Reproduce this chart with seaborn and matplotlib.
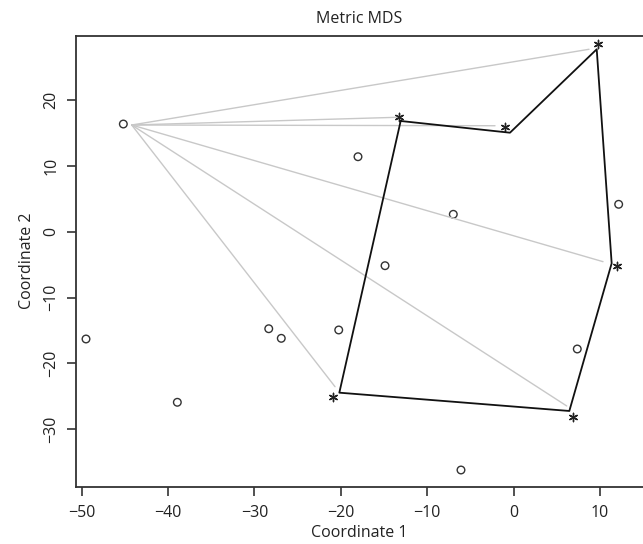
import numpy as np
import pandas as pd
import matplotlib
matplotlib.use("Agg")
import matplotlib.pyplot as plt
import seaborn as sns

# Circle points ("o")
circle_x = [-45.17, -18.01, -6.98, 12.16, -14.88, -49.49, -28.34, -26.89, -20.24, 7.37, -38.92, -6.09]
circle_y = [16.38, 11.41, 2.66, 4.18, -5.15, -16.29, -14.73, -16.19, -14.92, -17.81, -25.91, -36.20]

# Star points ("*")
star_x = [9.80, -13.26, -1.03, 11.93, 6.91, -20.87]
star_y = [28.54, 17.40, 15.88, -5.15, -28.10, -25.06]

# Black polygon vertices (closed)
poly_x = [-13.07, -0.42, 9.62, 11.35, 6.45, -20.17, -13.07]
poly_y = [16.84, 15.06, 27.74, -4.79, -27.23, -24.45, 16.84]

# Gray spokes: hub and end points
hub_x, hub_y = -44.2, 16.23
spoke_end_x = [8.73, -13.53, -2.15, 10.35, 6.15, -20.67]
spoke_end_y = [27.74, 17.40, 16.12, -4.54, -26.47, -23.54]

x_ticks = [-50, -40, -30, -20, -10, 0, 10]
y_ticks = [-30, -20, -10, 0, 10, 20]

sns.set_theme(style="white")
plt.rcParams['font.family'] = ['Open Sans', 'DejaVu Sans']

fig = plt.figure(figsize=(6.43, 5.44), dpi=100)
W, H = 643, 544
left_px, right_px, top_px, bottom_px = 75.5, 643, 35.7, 486.7
ax = fig.add_axes([left_px / W, 1 - bottom_px / H,
                   (right_px - left_px) / W, (bottom_px - top_px) / H])

# spokes
spokes = pd.DataFrame({
    "x": [v for ex in spoke_end_x for v in (hub_x, ex)],
    "y": [v for ey in spoke_end_y for v in (hub_y, ey)],
    "seg": [i for i in range(len(spoke_end_x)) for _ in (0, 1)],
})
sns.lineplot(data=spokes, x="x", y="y", units="seg", estimator=None, sort=False,
             color="#c8c8c8", linewidth=1.0, ax=ax, legend=False)

# polygon
poly = pd.DataFrame({"x": poly_x, "y": poly_y})
sns.lineplot(data=poly, x="x", y="y", sort=False, estimator=None,
             color="#111111", linewidth=1.3, ax=ax, legend=False)

# circles
circ = pd.DataFrame({"x": circle_x, "y": circle_y})
sns.scatterplot(data=circ, x="x", y="y", marker="o", s=30, facecolor="none",
                edgecolor="#333333", linewidth=1.0, ax=ax, legend=False)

# stars
star = pd.DataFrame({"x": star_x, "y": star_y})
sns.scatterplot(data=star, x="x", y="y", marker=(6, 2, 0), s=36,
                color="#222222", linewidth=1.0, ax=ax, legend=False)

ax.set_xlim((left_px - 513.6) / 8.64, (right_px - 513.6) / 8.64)
ax.set_ylim((231.8 - bottom_px) / 6.58, (231.8 - top_px) / 6.58)
ax.set_xticks(x_ticks)
ax.set_yticks(y_ticks)
ax.set_xticklabels([str(t).replace('-', '\u2212') for t in x_ticks])
ax.set_yticklabels([str(t).replace('-', '\u2212') for t in y_ticks])
for lab in ax.get_yticklabels():
    lab.set_rotation(90)
    lab.set_va('center')

for side in ["left", "bottom", "top"]:
    ax.spines[side].set_color("#333333")
    ax.spines[side].set_linewidth(1.3)
ax.spines["right"].set_visible(False)

ax.tick_params(axis="both", which="both", direction="out", length=6.5, width=1.2,
               color="#333333", labelsize=11.5, labelcolor="#222222", pad=5,
               left=True, bottom=True)
ax.tick_params(axis="x", pad=6.5)

ax.set_xlabel("Coordinate 1", fontsize=11.5, color="#222222", labelpad=3)
ax.set_ylabel("Coordinate 2", fontsize=11.5, color="#222222", labelpad=6)
ax.set_title("Metric MDS", fontsize=11.5, color="#222222", pad=9)

fig.savefig("out.png", dpi=100)
